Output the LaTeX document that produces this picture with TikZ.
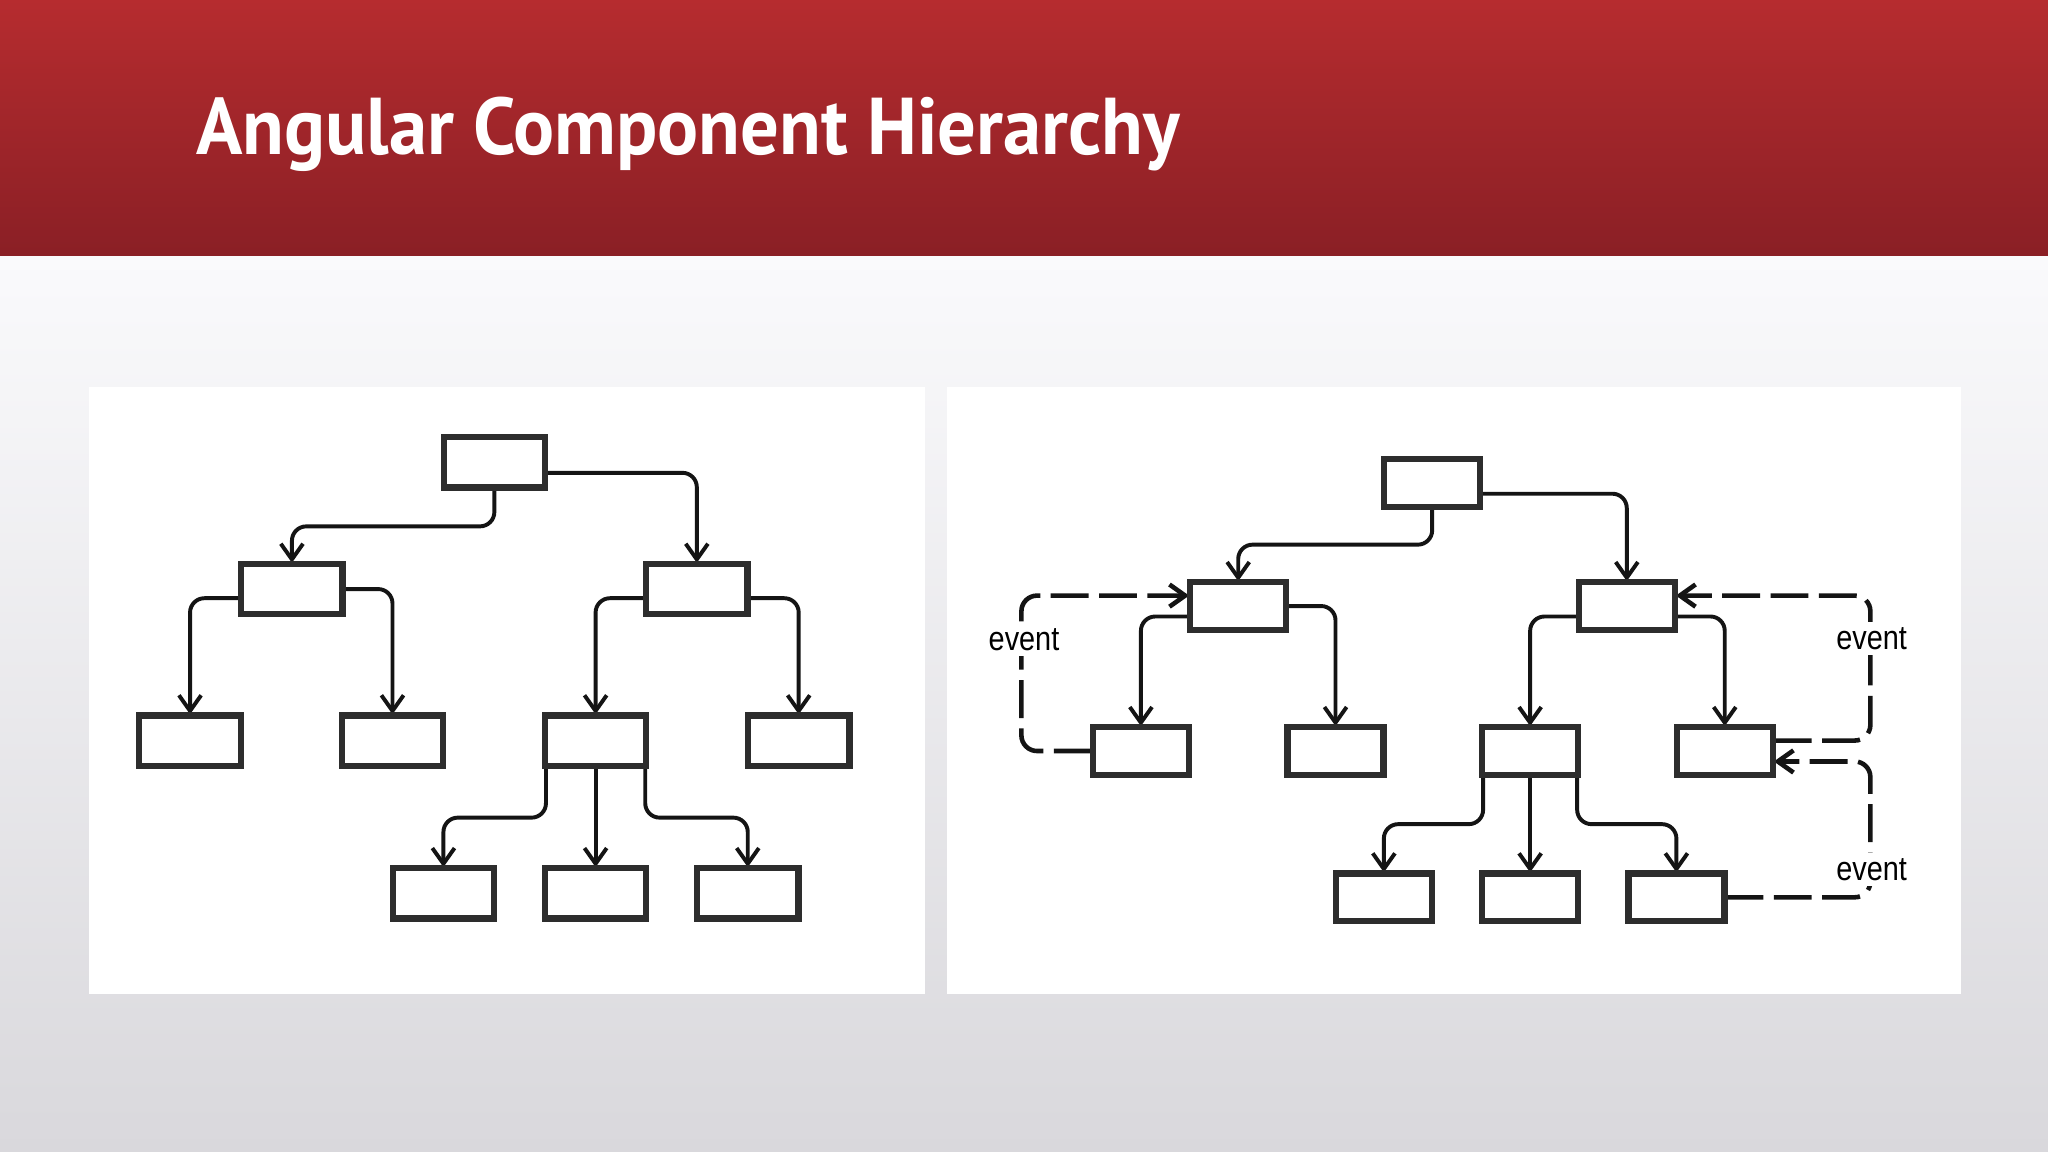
\documentclass[tikz,border=0pt]{standalone}
\usepackage{fontspec}
\usepackage{graphicx}
\setmainfont{Liberation Sans}
\newfontfamily\titlefont{PT Sans}
\usetikzlibrary{arrows.meta}
\definecolor{redtop}{RGB}{182,44,47}
\definecolor{redbot}{RGB}{138,31,37}
\definecolor{bgtop}{RGB}{250,250,252}
\definecolor{bgbot}{RGB}{217,216,220}
\definecolor{boxline}{RGB}{45,45,45}
\definecolor{linecol}{RGB}{20,20,20}
\tikzset{
  compbox/.style={draw=boxline, line width=3.2pt, fill=white, inner sep=0pt,
                  minimum width=76pt, minimum height=37pt},
  rcompbox/.style={compbox, minimum width=72pt, minimum height=35pt},
  conn/.style={draw=linecol, line width=3pt, rounded corners=11pt,
               -{Straight Barb[length=12pt,width=17pt]}},
  evconn/.style={draw=linecol, line width=3.5pt, rounded corners=12pt,
                 dash pattern=on 29pt off 8pt,
                 -{Straight Barb[length=12pt,width=17pt]}},
  evlabel/.style={fill=white, inner sep=4pt, anchor=base,
                  font=\fontsize{26}{30}\selectfont},
  panel/.style={fill=white, draw=none}
}
\begin{document}
\begin{tikzpicture}[x=1pt,y=-1pt]
\useasboundingbox (0,0) rectangle (1568,882);
% background
\shade[top color=bgtop, bottom color=bgbot] (0,196) rectangle (1568,882);
\shade[top color=redtop, bottom color=redbot] (0,0) rectangle (1568,196);
\node[anchor=base west, inner sep=0pt, text=white] (title) at (150,118)
  {\resizebox{753pt}{44pt}{\titlefont\bfseries Angular Component Hierarchy}};
% panels
\path[panel] (68,296) rectangle (708,761);
\path[panel] (725,296) rectangle (1501,761);

% ---------------- left tree ----------------
\node[compbox] (A) at (378.5,354) {};
\node[compbox] (B) at (223.5,451) {};
\node[compbox] (C) at (533.5,451) {};
\node[compbox] (D) at (145.5,567) {};
\node[compbox] (E) at (300.5,567) {};
\node[compbox] (F) at (456,567) {};
\node[compbox] (G) at (611.5,567) {};
\node[compbox] (H) at (339.5,684) {};
\node[compbox] (I) at (456,684) {};
\node[compbox] (J) at (572.5,684) {};
\coordinate (Fl) at ([xshift=1.6pt]F.south west);
\coordinate (Fr) at ([xshift=-1.6pt]F.south east);

\draw[conn] (A.south) -- (A.south |- 0,403) -| (B.north);
\draw[conn] ([yshift=-8pt]A.east) -| (C.north);
\draw[conn] ([yshift=-7pt]B.west) -| (D.north);
\draw[conn] (B.east) -| (E.north);
\draw[conn] ([yshift=-7pt]C.west) -| (F.north);
\draw[conn] ([yshift=-7pt]C.east) -| (G.north);
\draw[conn] (Fl) -- (Fl |- 0,626) -| (H.north);
\draw[conn] (F.south) -- (I.north);
\draw[conn] (Fr) -- (Fr |- 0,626) -| (J.north);

% ---------------- right tree ----------------
\node[rcompbox] (RA) at (1096.5,370) {};
\node[rcompbox] (RB) at (948,464) {};
\node[rcompbox] (RC) at (1245.5,464) {};
\node[rcompbox] (RD) at (873.5,575) {};
\node[rcompbox] (RE) at (1022.5,575) {};
\node[rcompbox] (RF) at (1171.5,575) {};
\node[rcompbox] (RG) at (1320.5,575) {};
\node[rcompbox] (RH) at (1059.5,687) {};
\node[rcompbox] (RI) at (1171.5,687) {};
\node[rcompbox] (RJ) at (1283.5,687) {};
\coordinate (RFl) at ([xshift=1.6pt]RF.south west);
\coordinate (RFr) at ([xshift=-1.6pt]RF.south east);

\draw[conn] (RA.south) -- (RA.south |- 0,417) -| (RB.north);
\draw[conn] ([yshift=-8pt]RA.east) -| (RC.north);
\draw[conn] ([yshift=-8pt]RB.west) -| (RD.north);
\draw[conn] (RB.east) -| (RE.north);
\draw[conn] ([yshift=-8pt]RC.west) -| (RF.north);
\draw[conn] ([yshift=-8pt]RC.east) -| (RG.north);
\draw[conn] (RFl) -- (RFl |- 0,631) -| (RH.north);
\draw[conn] (RF.south) -- (RI.north);
\draw[conn] (RFr) -- (RFr |- 0,631) -| (RJ.north);

% event arrows
\draw[evconn] (RD.west) -| (782,456) -- ([yshift=8pt]RB.west);
\draw[evconn] ([yshift=8pt]RG.east) -| (1432,456) -- ([yshift=8pt]RC.east);
\draw[evconn] (RJ.east) -| (1432,583) -- ([yshift=-8pt]RG.east);

% redraw box outlines on top of the lines
\foreach \n in {A,B,C,D,E,F,G,H,I,J,RA,RB,RC,RD,RE,RF,RG,RH,RI,RJ}
  {\draw[boxline, line width=3.2pt] (\n.south west) rectangle (\n.north east);}

\node[evlabel] (ev1) at (784,498) {\scalebox{0.85}[1]{event}};
\node[evlabel] (ev2) at (1433,497) {\scalebox{0.85}[1]{event}};
\node[evlabel] (ev3) at (1433,674) {\scalebox{0.85}[1]{event}};
\end{tikzpicture}
\end{document}
